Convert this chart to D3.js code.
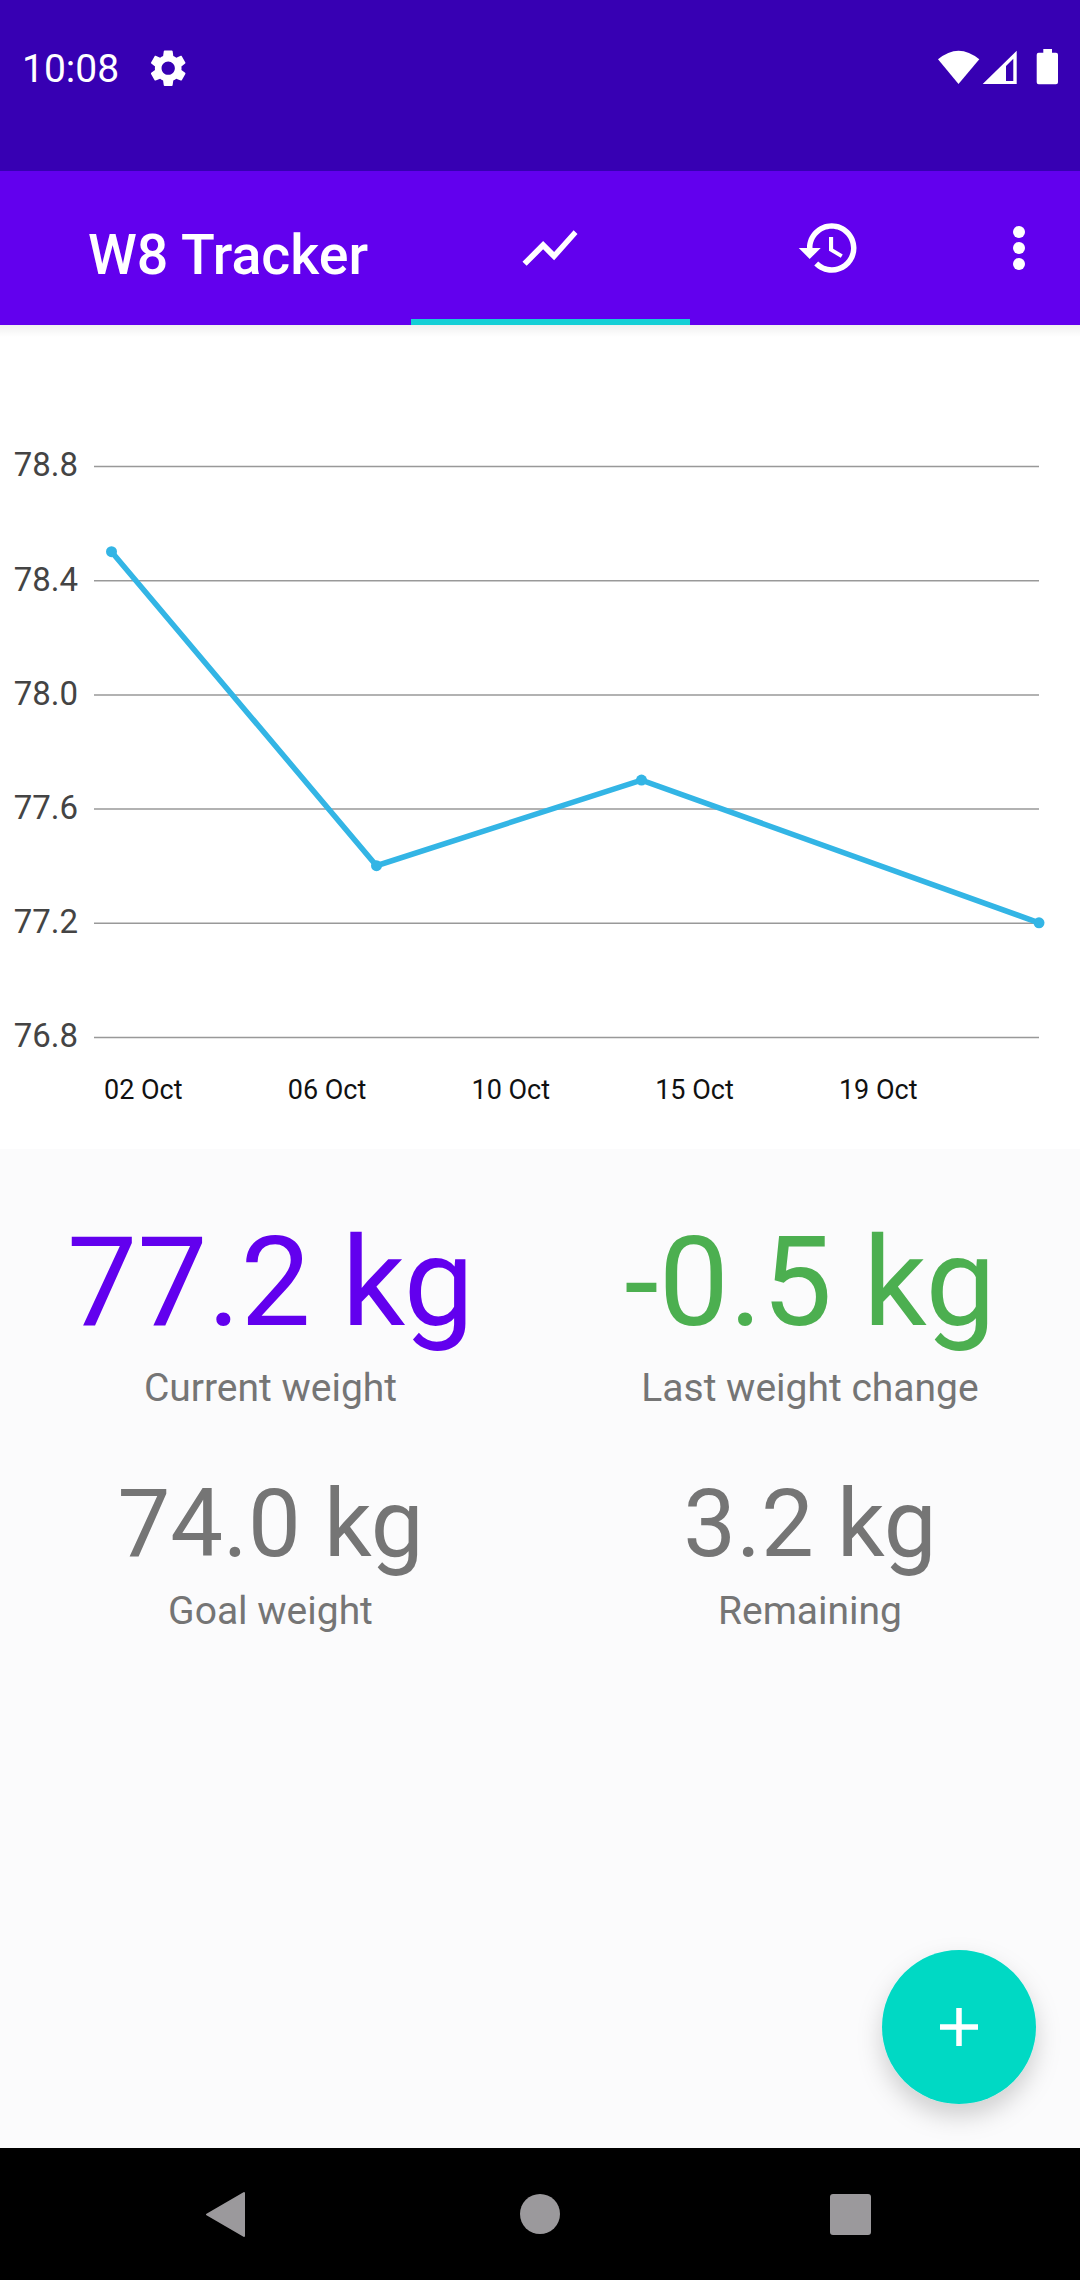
<!DOCTYPE html>
<html>
<head>
<meta charset="utf-8">
<script src="https://cdn.jsdelivr.net/npm/d3@7"></script>
<style>
  html, body { margin: 0; padding: 0; background: #fff; }
  svg { display: block; font-family: Roboto, sans-serif; }
</style>
</head>
<body>
<div id="screen"></div>
<script>
// Define screen dimensions
var width = 1080;
var height = 2280;

// Weight entries: day of October and kg
var entryDays = [2, 8, 14, 23];
var entryWeights = [78.5, 77.4, 77.7, 77.2];

// Axis ticks
var weightTicks = [76.8, 77.2, 77.6, 78.0, 78.4, 78.8];
var dayTicks = [2, 6.16, 10.32, 14.48, 18.64];
var dayLabels = ["02 Oct", "06 Oct", "10 Oct", "15 Oct", "19 Oct"];

// Stat blocks under the chart
var statValues = ["77.2 kg", "-0.5 kg", "74.0 kg", "3.2 kg"];
var statCaptions = ["Current weight", "Last weight change", "Goal weight", "Remaining"];

var svg = d3.select("#screen")
    .append("svg")
    .attr("width", width)
    .attr("height", height);

var defs = svg.append("defs");

var barShadow = defs.append("linearGradient")
    .attr("id", "barShadow")
    .attr("x1", 0).attr("y1", 0).attr("x2", 0).attr("y2", 1);
barShadow.append("stop").attr("offset", 0).attr("stop-color", "#000").attr("stop-opacity", 0.06);
barShadow.append("stop").attr("offset", 1).attr("stop-color", "#000").attr("stop-opacity", 0);

var fabShadow = defs.append("filter")
    .attr("id", "fabShadow")
    .attr("x", "-40%").attr("y", "-40%").attr("width", "180%").attr("height", "180%");
fabShadow.append("feDropShadow")
    .attr("dx", 0).attr("dy", 12)
    .attr("stdDeviation", 12)
    .attr("flood-color", "#000")
    .attr("flood-opacity", 0.18);

// Backgrounds
svg.append("rect").attr("width", width).attr("height", 171).attr("fill", "#3700B3");
svg.append("rect").attr("y", 171).attr("width", width).attr("height", 154).attr("fill", "#6200EE");
svg.append("rect").attr("y", 325).attr("width", width).attr("height", 12).attr("fill", "url(#barShadow)");
svg.append("rect").attr("y", 1149).attr("width", width).attr("height", 999).attr("fill", "#FBFBFC");
svg.append("rect").attr("y", 2148).attr("width", width).attr("height", 132).attr("fill", "#000");

// Status bar
svg.append("text").attr("x", 22).attr("y", 82)
    .attr("font-size", 39).attr("fill", "#fff")
    .text("10:08");

function icon(d, x, y, k) {
    return svg.append("path")
        .attr("d", d)
        .attr("transform", "translate(" + x + "," + y + ") scale(" + k + ")")
        .attr("fill", "#fff")
        .attr("fill-rule", "evenodd");
}

icon("M19.14 12.94c.04-.3.06-.61.06-.94 0-.32-.02-.64-.07-.94l2.03-1.58c.18-.14.23-.41.12-.61l-1.92-3.32c-.12-.22-.37-.29-.59-.22l-2.39.96c-.5-.38-1.03-.7-1.62-.94l-.36-2.54c-.04-.24-.24-.41-.48-.41h-3.84c-.24 0-.43.17-.47.41l-.36 2.54c-.59.24-1.13.57-1.62.94l-2.39-.96c-.22-.08-.47 0-.59.22L2.74 8.87c-.12.21-.08.47.12.61l2.03 1.58c-.05.3-.09.63-.09.94s.02.64.07.94l-2.03 1.58c-.18.14-.23.41-.12.61l1.92 3.32c.12.22.37.29.59.22l2.39-.96c.5.38 1.03.7 1.62.94l.36 2.54c.05.24.24.41.48.41h3.84c.24 0 .44-.17.47-.41l.36-2.54c.59-.24 1.13-.56 1.62-.94l2.39.96c.22.08.47 0 .59-.22l1.92-3.32c.12-.22.07-.47-.12-.61l-2.01-1.58zM12 15.6c-1.98 0-3.6-1.62-3.6-3.6s1.62-3.6 3.6-3.6 3.6 1.62 3.6 3.6-1.62 3.6-3.6 3.6z",
    146, 46, 1.85);

// Wifi, signal and battery
svg.append("path")
    .attr("d", "M938 59.3 Q958.5 42 979.3 59.3 L958.5 84 Z")
    .attr("fill", "#fff");
svg.append("path")
    .attr("d", "M1016.7 50.7 V84 H982.7 Z M1013.3 58.7 L1006 66 V81 H1013.3 Z")
    .attr("fill", "#fff")
    .attr("fill-rule", "evenodd");
svg.append("path")
    .attr("d", "M1043.3 49 H1052 V52.7 H1056 Q1058 52.7 1058 54.7 V82.3 Q1058 84.3 1056 84.3 H1038.7 Q1036.7 84.3 1036.7 82.3 V54.7 Q1036.7 52.7 1038.7 52.7 H1043.3 Z")
    .attr("fill", "#fff");

// App bar
svg.append("text").attr("x", 88).attr("y", 274)
    .attr("font-size", 55.5).attr("font-weight", 500).attr("fill", "#fff")
    .text("W8 Tracker");

icon("M3.5 18.49l6-6.01 4 4L22 6.92l-1.41-1.41-7.09 7.97-4-4L2 16.99z", 517, 215, 2.75);
icon("M13 3c-4.97 0-9 4.03-9 9H1l3.89 3.89.07.14L9 12H6c0-3.87 3.13-7 7-7s7 3.13 7 7-3.13 7-7 7c-1.93 0-3.68-.79-4.94-2.06l-1.42 1.42C8.27 19.99 10.51 21 13 21c4.97 0 9-4.03 9-9s-4.03-9-9-9zm-1 5v5l4.28 2.54.72-1.21-3.5-2.08V8H12z", 796, 215, 2.75);

svg.selectAll("circle.menu")
    .data([232, 248, 264])
    .enter()
    .append("circle")
    .attr("class", "menu")
    .attr("cx", 1019)
    .attr("cy", function(d) { return d; })
    .attr("r", 6)
    .attr("fill", "#fff");

// Selected tab underline
svg.append("rect").attr("x", 411).attr("y", 319).attr("width", 279).attr("height", 6).attr("fill", "#14CFD6");

// Chart scales
var x = d3.scaleLinear().domain([2, 23]).range([111.5, 1039]);
var y = d3.scaleLinear().domain([76.8, 78.8]).range([1037, 466]);

// Gridlines and weight labels
var yAxis = svg.append("g")
    .attr("transform", "translate(94,0)")
    .call(d3.axisLeft(y)
        .tickValues(weightTicks)
        .tickFormat(d3.format(".1f"))
        .tickSize(-945)
        .tickPadding(16));
yAxis.select(".domain").remove();
yAxis.selectAll("line").attr("stroke", "#999").attr("stroke-width", 1.5);
yAxis.selectAll("text")
    .attr("font-family", "Roboto, sans-serif")
    .attr("font-size", 33)
    .attr("fill", "#444")
    .attr("dy", "0.3em");

// Date labels
var xAxis = svg.append("g")
    .attr("transform", "translate(0,1071.5)")
    .call(d3.axisBottom(x)
        .tickValues(dayTicks)
        .tickFormat(function(d, i) { return dayLabels[i]; })
        .tickSize(0));
xAxis.select(".domain").remove();
xAxis.selectAll("text")
    .attr("font-family", "Roboto, sans-serif")
    .attr("font-size", 27)
    .attr("fill", "#111")
    .attr("text-anchor", "start")
    .attr("x", -8)
    .attr("y", 0)
    .attr("dy", "1em");

// Weight line and points
var line = d3.line()
    .x(function(d, i) { return x(entryDays[i]); })
    .y(function(d) { return y(d); });

svg.append("path")
    .datum(entryWeights)
    .attr("d", line)
    .attr("fill", "none")
    .attr("stroke", "#33B5E5")
    .attr("stroke-width", 5.5);

svg.selectAll("circle.point")
    .data(entryWeights)
    .enter()
    .append("circle")
    .attr("class", "point")
    .attr("cx", function(d, i) { return x(entryDays[i]); })
    .attr("cy", function(d) { return y(d); })
    .attr("r", 5.5)
    .attr("fill", "#33B5E5");

// Stats
var statX = [270.5, 810, 270.5, 810];
var statY = [1325, 1325, 1556, 1556];
var captionY = [1401, 1401, 1624, 1624];
var statSize = [125, 125, 94, 94];
var statColor = ["#6200EE", "#4CAF50", "#757575", "#757575"];

svg.selectAll("text.stat")
    .data(statValues)
    .enter()
    .append("text")
    .attr("class", "stat")
    .attr("x", function(d, i) { return statX[i]; })
    .attr("y", function(d, i) { return statY[i]; })
    .attr("text-anchor", "middle")
    .attr("font-size", function(d, i) { return statSize[i]; })
    .attr("fill", function(d, i) { return statColor[i]; })
    .text(function(d) { return d; });

svg.selectAll("text.caption")
    .data(statCaptions)
    .enter()
    .append("text")
    .attr("class", "caption")
    .attr("x", function(d, i) { return statX[i]; })
    .attr("y", function(d, i) { return captionY[i]; })
    .attr("text-anchor", "middle")
    .attr("font-size", 39)
    .attr("fill", "#757575")
    .text(function(d) { return d; });

// Add button
svg.append("circle")
    .attr("cx", 959).attr("cy", 2027).attr("r", 77)
    .attr("fill", "#00D9C4")
    .attr("filter", "url(#fabShadow)");
svg.append("path")
    .attr("d", "M940 2024.25 H956.25 V2008 H961.75 V2024.25 H978 V2029.75 H961.75 V2046 H956.25 V2029.75 H940 Z")
    .attr("fill", "#fff");

// Navigation bar
var navColor = "#9B999C";
svg.append("path")
    .attr("d", "M244 2193 V2236 L207 2214.5 Z")
    .attr("fill", navColor)
    .attr("stroke", navColor)
    .attr("stroke-width", 2)
    .attr("stroke-linejoin", "round");
svg.append("circle").attr("cx", 540).attr("cy", 2214).attr("r", 20).attr("fill", navColor);
svg.append("rect").attr("x", 830).attr("y", 2194).attr("width", 41).attr("height", 41).attr("rx", 3).attr("fill", navColor);
</script>
</body>
</html>
